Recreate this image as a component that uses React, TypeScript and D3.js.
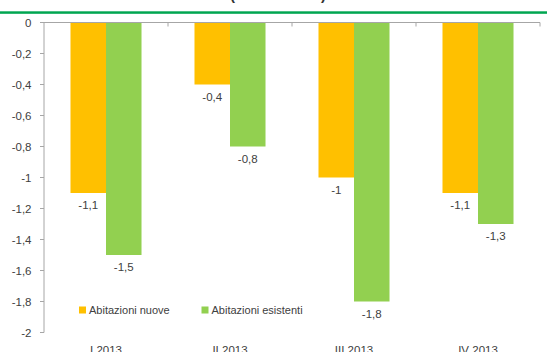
import React from "react";
import * as d3 from "d3";

const categories = ["I 2013", "II 2013", "III 2013", "IV 2013"];
const seriesNames = ["Abitazioni nuove", "Abitazioni esistenti"];
const nuove = [-1.1, -0.4, -1.0, -1.1];
const esistenti = [-1.5, -0.8, -1.8, -1.3];
const yTicks = [0, -0.2, -0.4, -0.6, -0.8, -1, -1.2, -1.4, -1.6, -1.8, -2];
const colors = ["#FFC000", "#92D050"];
const title = "(variazioni %)";

const W = 547;
const H = 352;
const FONT = "'Liberation Sans', Arial, sans-serif";
const TEXT = "#404040";
const AXIS = "#a6a6a6";

const fmt = (v: number) => String(v).replace(".", ",");

export default function App() {
  const x0 = d3.scaleBand<string>().domain(categories).range([44, 540]).padding(0);
  const x1 = d3
    .scaleBand<string>()
    .domain(seriesNames)
    .range([0, x0.bandwidth()])
    .paddingInner(0)
    .paddingOuter(0.746);
  const y = d3.scaleLinear().domain([-2, 0]).range([332.5, 22.5]);

  const values = [nuove, esistenti];

  return (
    <svg
      width={W}
      height={H}
      style={{ position: "fixed", left: 0, top: 0, background: "#fff" }}
      fontFamily={FONT}
    >
      {/* title, its baseline sits on the top edge */}
      <text
        x={278}
        y={0}
        textAnchor="middle"
        fontSize={17}
        fontWeight="bold"
        fill="#333"
        textLength={96}
        lengthAdjust="spacingAndGlyphs"
      >
        {title}
      </text>
      <rect x={0} y={11.3} width={W} height={2.5} fill="#00A651" />

      {/* bars */}
      {categories.map((c, i) =>
        seriesNames.map((s, j) => {
          const v = values[j][i];
          const bx = (x0(c) ?? 0) + (x1(s) ?? 0);
          const bw = x1.bandwidth();
          return (
            <g key={c + s}>
              <rect
                x={bx}
                y={y(0)}
                width={bw}
                height={y(v) - y(0)}
                fill={colors[j]}
              />
              <text
                x={bx + bw / 2}
                y={y(v) + 16}
                textAnchor="middle"
                fontSize={11.5}
                fill={TEXT}
              >
                {fmt(v)}
              </text>
            </g>
          );
        })
      )}

      {/* y axis */}
      <line x1={44} x2={44} y1={y(0)} y2={y(-2)} stroke={AXIS} strokeWidth={1} />
      {yTicks.map((t) => (
        <g key={t}>
          <line x1={40} x2={44} y1={y(t)} y2={y(t)} stroke={AXIS} strokeWidth={1} />
          <text
            x={31.5}
            y={y(t)}
            dy="0.35em"
            textAnchor="end"
            fontSize={11.5}
            fill={TEXT}
          >
            {fmt(t)}
          </text>
        </g>
      ))}

      {/* category axis at zero */}
      <line x1={44} x2={540} y1={y(0)} y2={y(0)} stroke={AXIS} strokeWidth={1} />
      {categories.map((c) => {
        const tx = (x0(c) ?? 0) + x0.bandwidth();
        return (
          <line key={c} x1={tx} x2={tx} y1={y(0)} y2={y(0) + 4} stroke={AXIS} strokeWidth={1} />
        );
      })}
      {categories.map((c) => (
        <text
          key={c}
          x={(x0(c) ?? 0) + x0.bandwidth() / 2}
          y={354}
          textAnchor="middle"
          fontSize={11.5}
          fill={TEXT}
        >
          {c}
        </text>
      ))}

      {/* legend */}
      {seriesNames.map((s, j) => {
        const lx = [79, 201.5][j];
        return (
          <g key={s}>
            <rect x={lx} y={306.5} width={7} height={7} fill={colors[j]} />
            <text x={lx + 10} y={314} fontSize={11} fill={TEXT}>
              {s}
            </text>
          </g>
        );
      })}
    </svg>
  );
}
